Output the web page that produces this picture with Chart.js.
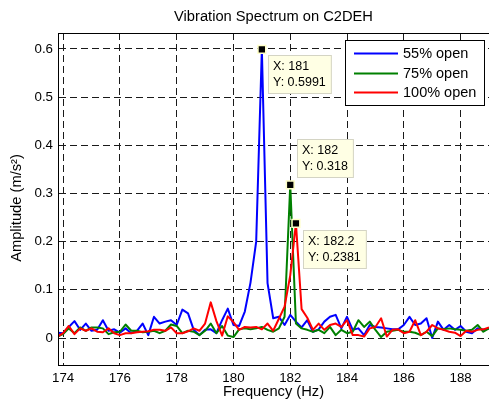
<!DOCTYPE html>
<html><head><meta charset="utf-8">
<script src="https://cdn.jsdelivr.net/npm/chart.js@4.4.1/dist/chart.umd.min.js"></script>
<style>html,body{margin:0;padding:0;background:#fff;overflow:hidden}#wrap{width:496px;height:403px}</style>
</head><body><div id="wrap"><canvas id="c" width="496" height="403"></canvas></div>
<script>
// ---- data ----
const freq = [173.8,174.0,174.2,174.4,174.6,174.8,175.0,175.2,175.4,175.6,175.8,
  176.0,176.2,176.4,176.6,176.8,177.0,177.2,177.4,177.6,177.8,
  178.0,178.2,178.4,178.6,178.8,179.0,179.2,179.4,179.6,179.8,
  180.0,180.2,180.4,180.6,180.8,181.0,181.2,181.4,181.6,181.8,
  182.0,182.2,182.4,182.6,182.8,183.0,183.2,183.4,183.6,183.8,
  184.0,184.2,184.4,184.6,184.8,185.0,185.2,185.4,185.6,185.8,
  186.0,186.2,186.4,186.6,186.8,187.0,187.2,187.4,187.6,187.8,
  188.0,188.2,188.4,188.6,188.8,189.0];
const open55 = [0.011,0.010,0.023,0.035,0.017,0.030,0.015,0.017,0.037,0.015,0.018,
  0.011,0.020,0.010,0.015,0.030,0.006,0.044,0.030,0.034,0.037,
  0.027,0.059,0.051,0.017,0.006,0.017,0.018,0.010,0.037,0.061,
  0.027,0.025,0.055,0.115,0.200,0.5991,0.114,0.041,0.044,0.027,
  0.048,0.034,0.022,0.037,0.013,0.018,0.034,0.044,0.048,0.020,
  0.044,0.017,0.020,0.006,0.027,0.023,0.022,0.020,0.018,0.018,
  0.027,0.044,0.027,0.030,0.041,0.000,0.034,0.017,0.027,0.017,
  0.025,0.013,0.010,0.020,0.017,0.020];
const open75 = [0.003,0.008,0.020,0.010,0.022,0.015,0.022,0.022,0.020,0.008,0.012,
  0.013,0.028,0.015,0.015,0.012,0.013,0.015,0.010,0.015,0.028,
  0.025,0.010,0.015,0.013,0.006,0.015,0.030,0.010,0.025,0.005,
  0.002,0.018,0.020,0.018,0.020,0.023,0.017,0.013,0.020,0.044,
  0.318,0.030,0.020,0.017,0.013,0.017,0.010,0.023,0.006,0.017,
  0.010,0.013,0.037,0.023,0.034,0.017,0.002,0.013,0.015,0.017,
  0.013,0.013,0.011,0.006,0.013,0.004,0.020,0.018,0.020,0.018,
  0.017,0.015,0.017,0.027,0.013,0.020];
const open100 = [0.003,0.010,0.025,0.008,0.020,0.015,0.020,0.013,0.012,0.020,0.010,
  0.006,0.010,0.010,0.012,0.013,0.014,0.017,0.017,0.015,0.022,
  0.010,0.010,0.014,0.020,0.015,0.030,0.074,0.035,0.005,0.045,
  0.033,0.017,0.023,0.022,0.023,0.018,0.030,0.015,0.040,0.065,
  0.130,0.2381,0.060,0.042,0.017,0.030,0.017,0.027,0.030,0.023,
  0.037,0.006,0.006,0.003,0.020,0.023,0.041,0.003,0.017,0.018,
  0.010,0.013,0.037,0.006,0.013,0.027,0.020,0.017,0.013,0.011,
  0.004,0.015,0.013,0.017,0.018,0.022];
const seriesLabels = ['55% open','75% open','100% open'];
const peakX = [181, 182, 182.2];
const peakY = [0.5991, 0.318, 0.2381];
const xTicks = [174,176,178,180,182,184,186,188];
const yTicks = [0,0.1,0.2,0.3,0.4,0.5,0.6];
const titleText = 'Vibration Spectrum on C2DEH';
const xTitle = 'Frequency (Hz)';
const yTitle = 'Amplitude (m/s\u00B2)';

// ---- styling ----
const FONT = '"Liberation Sans", Arial, Helvetica, sans-serif';
const colors = ['#0000ff','#008000','#ff0000'];
const tipOffsets = [[6,6,'below'],[7,-7,'above'],[7,7,'below']];

const decor = {
  id:'decor',
  afterDatasetsDraw(chart){
    const {ctx, chartArea:a, scales:{x,y}} = chart;
    ctx.save();
    // frame
    ctx.strokeStyle='#000'; ctx.lineWidth=1; ctx.setLineDash([]);
    const L=Math.floor(a.left)+0.5, T=Math.floor(a.top)+0.5, R=Math.floor(a.right)+0.5, B=Math.floor(a.bottom)+0.5;
    ctx.beginPath(); ctx.moveTo(L,B); ctx.lineTo(L,T); ctx.lineTo(R,T); ctx.lineTo(R,B); ctx.lineTo(L,B); ctx.stroke();
    // titles
    ctx.fillStyle='#000'; ctx.textBaseline='middle'; ctx.textAlign='center';
    ctx.font='14.7px '+FONT;
    ctx.fillText(titleText,(a.left+a.right)/2,16.5);
    ctx.fillText(xTitle,(a.left+a.right)/2,392);
    ctx.save(); ctx.translate(17,208); ctx.rotate(-Math.PI/2);
    ctx.fillText(yTitle,0,0); ctx.restore();
    // data tips
    ctx.font='12.5px '+FONT; ctx.textAlign='left';
    for(let i=0;i<peakX.length;i++){
      const px=x.getPixelForValue(peakX[i]), py=y.getPixelForValue(peakY[i]);
      const l1='X: '+peakX[i], l2='Y: '+peakY[i];
      const w=Math.max(ctx.measureText(l1).width,ctx.measureText(l2).width)+11;
      const h=39;
      const [dx,dy,pos]=tipOffsets[i];
      const bx=Math.round(px+dx), by=Math.round(pos==='below'?py+dy:py+dy-h);
      ctx.fillStyle='#ffffe4'; ctx.fillRect(bx,by,w,h);
      ctx.strokeStyle='#d4d4c4'; ctx.lineWidth=1; ctx.strokeRect(bx+0.5,by+0.5,w-1,h-1);
      ctx.fillStyle='#000';
      ctx.fillText(l1,bx+5,by+11.5); ctx.fillText(l2,bx+5,by+27.5);
    }
    // legend
    const lx=345, ly=40, lw=139, lh=65;
    ctx.fillStyle='#fff'; ctx.fillRect(lx,ly,lw,lh);
    ctx.strokeStyle='#000'; ctx.lineWidth=1; ctx.strokeRect(lx+0.5,ly+0.5,lw,lh);
    ctx.font='14.5px '+FONT; ctx.textBaseline='middle'; ctx.textAlign='left';
    const rows=[53.5,73.5,92.5];
    for(let i=0;i<3;i++){
      ctx.strokeStyle=colors[i]; ctx.lineWidth=2;
      ctx.beginPath(); ctx.moveTo(354,rows[i]); ctx.lineTo(398,rows[i]); ctx.stroke();
      ctx.fillStyle='#000'; ctx.fillText(seriesLabels[i],403,rows[i]+0.5);
    }
    ctx.restore();
  }
};

const mk = (arr)=>freq.map((f,i)=>({x:f,y:arr[i]}));
const series=[open55,open75,open100];
const datasets = series.map((arr,i)=>({
  type:'line', label:seriesLabels[i], data:mk(arr), borderColor:colors[i], backgroundColor:colors[i],
  borderWidth:2, pointRadius:0, tension:0, fill:false, borderJoinStyle:'round', order:3-i
}));
datasets.push({type:'scatter', label:'tips', data:peakX.map((v,i)=>({x:v,y:peakY[i]})),
  pointStyle:'rect', pointRadius:5.5, backgroundColor:'#000', borderColor:'#ffffc8', borderWidth:1.5, order:0});

new Chart(document.getElementById('c'),{
  type:'line',
  data:{datasets},
  options:{
    responsive:false, animation:false, devicePixelRatio:1,
    layout:{padding:{left:0,right:5,top:33,bottom:0}},
    plugins:{legend:{display:false},tooltip:{enabled:false},title:{display:false}},
    scales:{
      x:{type:'linear',min:173.82,max:189.0,
        afterBuildTicks:s=>{s.ticks=xTicks.map(v=>({value:v}));},
        afterFit:s=>{s.height=38;},
        ticks:{color:'#000',font:{family:FONT,size:13.3},padding:5,maxRotation:0,autoSkip:false,callback:v=>String(v)},
        grid:{color:'#1a1a1a',lineWidth:1,drawTicks:false},
        border:{display:true,color:'#000',width:1,dash:[7,4]}
      },
      y:{type:'linear',min:-0.056,max:0.633,
        afterBuildTicks:s=>{s.ticks=yTicks.map(v=>({value:v}));},
        afterFit:s=>{s.width=58;},
        ticks:{color:'#000',font:{family:FONT,size:13.3},padding:5,callback:v=>String(v)},
        grid:{color:'#1a1a1a',lineWidth:1,drawTicks:false},
        border:{display:true,color:'#000',width:1,dash:[7,4]}
      }
    }
  },
  plugins:[decor]
});
</script>
</body></html>
